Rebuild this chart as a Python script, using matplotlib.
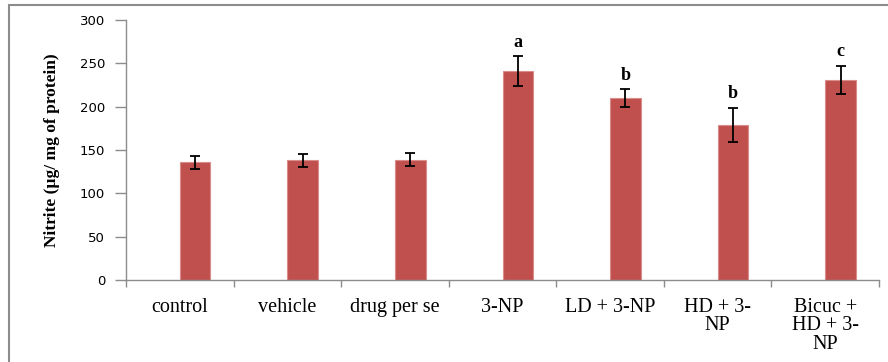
import numpy as np
import matplotlib.pyplot as plt
from matplotlib.patches import Rectangle

groups = ["control", "vehicle", "drug per se", "3-NP", "LD + 3-NP",
          "HD + 3-\nNP", "Bicuc +\nHD + 3-\nNP"]
nitrite = [136, 138, 139, 241, 210, 179, 231]
sem = [7.5, 7.5, 8, 17, 10, 20, 16]
letters = ["", "", "", "a", "b", "b", "c"]

bar_color = "#C0504D"
axis_gray = "#8C8C8C"

fig = plt.figure(figsize=(8.88, 3.62), dpi=100)
ax = fig.add_axes([0.1419, 0.2265, 0.8480, 0.7183])

x = np.arange(len(groups))
width = 0.285
# bars sit just right of each category centre, as in a two-series Excel chart
ax.bar(x + width / 2, nitrite, width=width, color=bar_color,
       edgecolor="#D98C8A", linewidth=0.8, zorder=2)
ax.errorbar(x + width / 2, nitrite, yerr=sem, fmt="none", ecolor="black",
            elinewidth=1.3, capsize=3.3, capthick=1.3, zorder=3)

for xi, v, e, lab in zip(x, nitrite, sem, letters):
    if lab:
        ax.annotate(lab, (xi + width / 2, v + e), xytext=(0, 4),
                    textcoords="offset points", ha="center", va="bottom",
                    fontsize=13, fontweight="bold", family="Liberation Serif")

ax.set_xlim(-0.5, len(groups) - 0.5)
ax.set_ylim(0, 300)
ax.set_yticks(np.arange(0, 301, 50))
ax.set_xticks(x)
ax.set_xticklabels(groups, family="Liberation Serif", fontsize=14.5,
                   linespacing=0.95)
ax.set_xticks(np.arange(-0.5, len(groups), 1), minor=True)

ax.tick_params(axis="x", which="major", length=0, pad=13)
ax.tick_params(axis="x", which="minor", length=5, color=axis_gray, width=1)
ax.tick_params(axis="y", length=8, color=axis_gray, width=1, pad=7,
               labelsize=9.5)
for t in ax.get_yticklabels():
    t.set_family("DejaVu Sans")

for side in ("top", "right"):
    ax.spines[side].set_visible(False)
for side in ("left", "bottom"):
    ax.spines[side].set_color(axis_gray)
    ax.spines[side].set_linewidth(1)

ax.set_ylabel("Nitrite (µg/ mg of protein)", family="Liberation Serif",
              fontweight="bold", fontsize=12.5, labelpad=14)

# outer chart frame
fig.patches.append(Rectangle((0.0101, -0.1), 1.2, 1.086,
                             transform=fig.transFigure, fill=False,
                             edgecolor=axis_gray, linewidth=1.5))

fig.savefig("out.png", dpi=100)
